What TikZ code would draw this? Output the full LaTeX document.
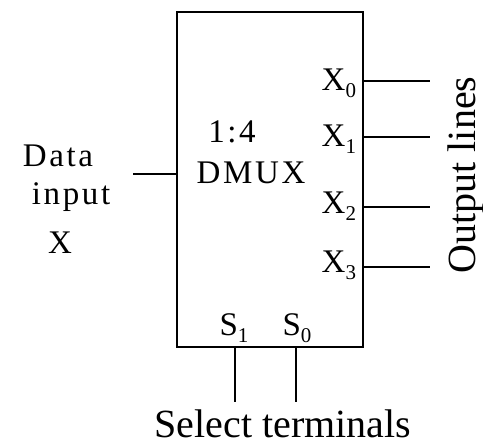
\documentclass[tikz,border=0pt]{standalone}
\usepackage{fontspec}
\setmainfont{Liberation Serif}
\newcommand\mysub[1]{\raisebox{-0.22em}{\fontsize{21}{21}\selectfont #1}}
\begin{document}
\begin{tikzpicture}[x=1pt,y=-1pt, line width=2pt,
  lbl/.style={inner sep=0pt, font=\fontsize{33}{36}\selectfont\addfontfeatures{LetterSpace=8}},
  big/.style={inner sep=0pt, font=\fontsize{40}{44}\selectfont}]
\useasboundingbox (0,0) rectangle (483,445);
\node[draw, line width=2pt, minimum width=186pt, minimum height=335pt, inner sep=0pt] (box) at (270,179.5) {};
% data input
\coordinate (din) at (133,174);
\draw (din) -- (din -| box.west);
% outputs
\coordinate (o0) at (430,81);
\coordinate (o1) at (430,137);
\coordinate (o2) at (430,207);
\coordinate (o3) at (430,267);
\foreach \c in {o0,o1,o2,o3} \draw (\c -| box.east) -- (\c);
% selects
\coordinate (s1) at (235,402);
\coordinate (s0) at (296,402);
\foreach \c in {s1,s0} \draw (\c |- box.south) -- (\c);
% labels
\node[lbl, anchor=base east] (lx0) at (357,90) {X\mysub{0}};
\node[lbl, anchor=base east] (lx1) at (357,146) {X\mysub{1}};
\node[lbl, anchor=base east] (lx2) at (357,213) {X\mysub{2}};
\node[lbl, anchor=base east] (lx3) at (357,272) {X\mysub{3}};
\node[lbl, anchor=base] (ratio) at (232,142) {1:4};
\node[lbl, anchor=base] (dmux) at (251,183) {DMUX};
\node[lbl, anchor=base] (data) at (58,166) {Data};
\node[lbl, anchor=base] (input) at (71,204) {input};
\node[lbl, anchor=base] (xin) at (60,253) {X};
\node[lbl, anchor=base] (ls1) at (234,335) {S\mysub{1}};
\node[lbl, anchor=base] (ls0) at (297,335) {S\mysub{0}};
\node[big, anchor=base] (sel) at (283,437) {Select terminals};
\node[big, anchor=base, rotate=90] (outl) at (475,175) {Output lines};
\end{tikzpicture}
\end{document}
